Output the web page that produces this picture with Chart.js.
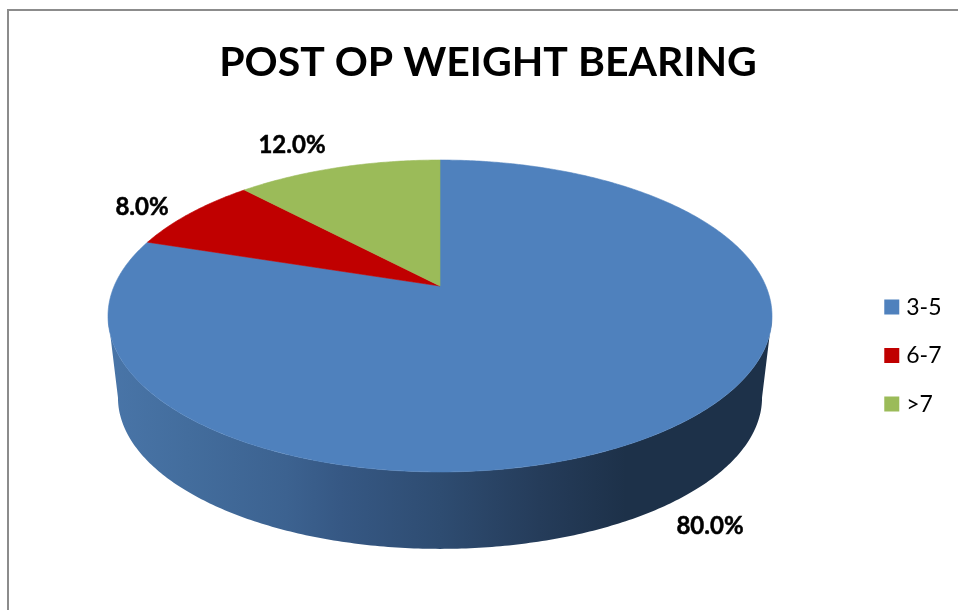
<!DOCTYPE html>
<html>
<head>
<meta charset="utf-8">
<title>POST OP WEIGHT BEARING</title>
<script src="https://cdn.jsdelivr.net/npm/chart.js@4"></script>
<style>
    html, body { margin: 0; background: #fff; overflow: hidden; }
    #frame { position: absolute; left: 7px; top: 9px; width: 960px; height: 610px; border: 2px solid #8c8c8c; }
    #chart { position: absolute; left: 0; top: 0; }
</style>
</head>
<body>
<div id="frame"></div>
<canvas id="chart" width="958" height="610"></canvas>
<script>
const categories = ['3-5', '6-7', '>7'];
const shares = [80, 8, 12];
const sliceColors = ['#4f81bd', '#c00000', '#9bbb59'];

const chartTitle = 'POST OP WEIGHT BEARING';

// where the percent labels sit, one per slice
const labelSpots = [[710, 526], [142, 207], [292, 145]];

// perspective of the tilted disc, fitted to the picture
const view = { x: 440, y: 286, rx: 325.8, ry: 150.2, k: -0.1923 };
const base = { x: 440, y: 368.5, scale: 0.97 };

function project(angle, disc) {
    const u = Math.cos(angle), v = Math.sin(angle);
    const w = 1 + view.k * v;
    const s = disc ? disc.scale : 1;
    return {
        x: (disc ? disc.x : view.x) + s * view.rx * u / w,
        y: (disc ? disc.y : view.y) + s * view.ry * v / w
    };
}

function traceRim(ctx, from, to, disc) {
    const steps = Math.max(2, Math.ceil(Math.abs(to - from) * 90));
    for (let i = 0; i <= steps; i++) {
        const p = project(from + (to - from) * i / steps, disc);
        ctx.lineTo(p.x, p.y);
    }
}

const tiltedPie = {
    id: 'tiltedPie',
    beforeDatasetsDraw(chart) {
        const ctx = chart.ctx;
        const arcs = chart.getDatasetMeta(0).data;

        // side wall, between the left and right silhouette points of the near edge
        const right = Math.asin(-view.k);
        const left = Math.PI - right;
        const wall = ctx.createLinearGradient(108, 0, 772, 0);
        wall.addColorStop(0, '#4975a8');
        wall.addColorStop(0.12, '#436d9d');
        wall.addColorStop(0.27, '#3c6290');
        wall.addColorStop(0.35, '#365884');
        wall.addColorStop(0.5, '#2e4c71');
        wall.addColorStop(0.65, '#253c5a');
        wall.addColorStop(0.78, '#1d3149');
        wall.addColorStop(1, '#1d3149');
        ctx.beginPath();
        traceRim(ctx, right, left);
        traceRim(ctx, left, right, base);
        ctx.closePath();
        ctx.fillStyle = wall;
        ctx.fill();

        // top face, angles come from the pie the library laid out
        arcs.forEach((arc, i) => {
            ctx.beginPath();
            ctx.moveTo(view.x, view.y);
            traceRim(ctx, arc.startAngle, arc.endAngle);
            ctx.closePath();
            ctx.fillStyle = sliceColors[i];
            ctx.strokeStyle = sliceColors[i];
            ctx.lineWidth = 0.6;
            ctx.fill();
            ctx.stroke();
        });
        return false;
    },
    afterDraw(chart) {
        const ctx = chart.ctx;
        ctx.save();
        ctx.font = 'bold 24px Lato';
        ctx.fillStyle = '#000';
        ctx.strokeStyle = '#000';
        ctx.lineWidth = 0.5;
        ctx.textAlign = 'center';
        ctx.textBaseline = 'middle';
        shares.forEach((value, i) => {
            const label = value.toFixed(1) + '%';
            ctx.fillText(label, labelSpots[i][0], labelSpots[i][1]);
            ctx.strokeText(label, labelSpots[i][0], labelSpots[i][1]);
        });
        ctx.restore();
    }
};

new Chart(document.getElementById('chart'), {
    type: 'pie',
    data: {
        labels: categories,
        datasets: [{ data: shares, backgroundColor: sliceColors, borderWidth: 0 }]
    },
    options: {
        responsive: false,
        animation: false,
        layout: { padding: { left: 24.5, right: 6.5, top: 0, bottom: 0 } },
        plugins: {
            tooltip: { enabled: false },
            title: {
                display: true,
                text: chartTitle,
                color: '#000',
                font: { family: 'Lato', size: 41, weight: 'bold' },
                padding: { top: 38, bottom: 14 }
            },
            legend: {
                position: 'right',
                fullSize: false,
                labels: {
                    usePointStyle: true,
                    pointStyle: 'rect',
                    boxWidth: 6,
                    boxHeight: 15,
                    padding: 25.5,
                    color: '#000',
                    font: { family: 'Lato', size: 23 }
                }
            }
        }
    },
    plugins: [tiltedPie]
});
</script>
</body>
</html>
